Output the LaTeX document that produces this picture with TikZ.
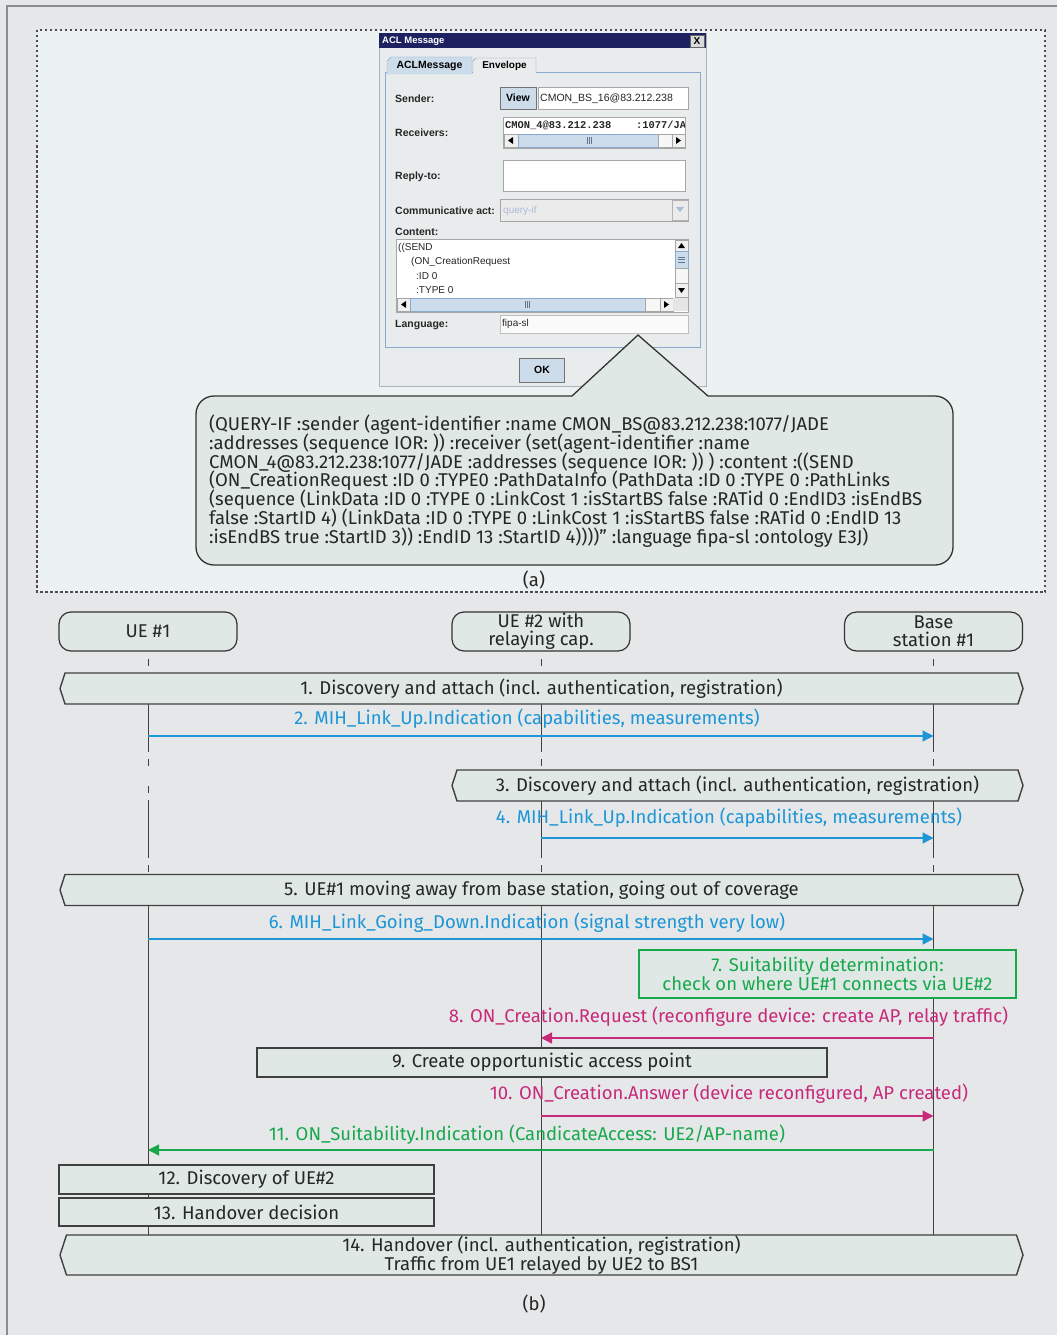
\documentclass[tikz,border=0pt]{standalone}
\usepackage{fontspec}
\setmainfont{Fira Sans}
\newfontfamily\dlgfont{Liberation Sans}
\newfontfamily\dlgmono{Liberation Mono}
\usetikzlibrary{arrows.meta,shapes.symbols}

\newcommand\tightlines{\lineskiplimit=-20pt\relax\lineskip=0pt\relax}

\definecolor{pagebg}{HTML}{E6E7E9}
\definecolor{panelbg}{HTML}{ECF1F1}
\definecolor{boxfill}{HTML}{DFE8E5}
\definecolor{winbg}{HTML}{E9ECEC}
\definecolor{titlebar}{HTML}{1E2160}
\definecolor{tabsel}{HTML}{CCDCEA}
\definecolor{tabline}{HTML}{8CA8CC}
\definecolor{greyed}{HTML}{A8BCD8}
\definecolor{msgblue}{HTML}{1C96D6}
\definecolor{msgred}{HTML}{C7297B}
\definecolor{msggreen}{HTML}{17A84B}

\tikzset{
  seqtext/.style={font=\fontsize{18.5}{19}\selectfont, text=black!85, inner sep=0pt},
  lifeline/.style={draw=black!75, line width=1pt},
  gapline/.style={lifeline, dash pattern=on 7pt off 20pt, dash phase=20pt},
  actor/.style={draw=black!80, line width=1.2pt, fill=boxfill, rounded corners=12pt,
    minimum width=178pt, minimum height=39pt, align=center, seqtext,
    font=\fontsize{18.5}{18}\selectfont\tightlines},
  phase/.style={shape=signal, signal to=west and east, signal pointer angle=144,
    draw=black!75, line width=1.4pt, fill=boxfill, minimum height=31pt, seqtext},
  stepbox/.style={draw=black!75, line width=1.3pt, fill=boxfill, seqtext},
  msg/.style={line width=1.3pt, -{Triangle[length=11pt,width=11pt]}},
  dlglabel/.style={anchor=west, inner sep=0pt, text=black!85,
    font=\dlgfont\bfseries\fontsize{10.5}{11}\selectfont},
  dlgtext/.style={anchor=west, inner sep=0pt, text=black!85,
    font=\dlgfont\fontsize{10}{11}\selectfont},
  field/.style={draw=black!35, fill=white},
  sbar/.style={draw=black!35, fill=black!6},
  thumb/.style={draw=tabline, fill=tabsel},
  button/.style={draw=black!55, fill=tabsel, inner sep=0pt,
    font=\dlgfont\bfseries\fontsize{10.5}{11}\selectfont}
}

\begin{document}
\begin{tikzpicture}[x=1pt,y=-1pt]
\useasboundingbox (0,0) rectangle (1057,1335);
\fill[pagebg] (0,0) rectangle (1057,1335);
\draw[black!45, line width=1.5pt] (7,1335) -- (7,6) -- (1057,6);

% (a) message window and its text
\draw[fill=panelbg, draw=black!70, line width=1.3pt, dash pattern=on 2.5pt off 2.5pt]
  (37,30) rectangle (1045,592);
\draw[draw=black!30, fill=winbg] (379,33) rectangle (706,386);
\fill[titlebar] (379,33) rectangle (706,48);
\node[anchor=west, inner sep=0pt, text=white, font=\dlgfont\bfseries\fontsize{9.5}{10}\selectfont]
  (wintitle) at (382,41) {ACL Message};
\draw[draw=black!60, fill=black!15] (690,35) rectangle (704,47);
\node[inner sep=0pt, font=\dlgfont\bfseries\fontsize{10}{10}\selectfont] (winclose) at (697,41) {X};
\draw[draw=tabline, line width=1pt] (385,73) rectangle (700,347);
\draw[draw=tabline, fill=tabsel] (387,74.5) -- (387,61) -- (391,57) -- (472,57) -- (472,74.5);
\draw[draw=black!40, fill=winbg] (473,73) -- (473,61) -- (476,58) -- (536,58) -- (536,73);
\node[inner sep=0pt, font=\dlgfont\bfseries\fontsize{10.5}{11}\selectfont] (tabacl) at (429.5,65.5) {ACLMessage};
\node[inner sep=0pt, font=\dlgfont\bfseries\fontsize{10}{11}\selectfont] (tabenv) at (504.5,65.5) {Envelope};

\node[dlglabel] (sender) at (395,98.5) {Sender:};
\node[button, minimum width=36pt, minimum height=22pt] (view) at (518,98) {View};
\draw[field] (538,87) rectangle (688,109);
\node[dlgtext, font=\dlgfont\fontsize{10.5}{11}\selectfont] (sendval) at (540,98.5) {CMON\_BS\_16@83.212.238};

\node[dlglabel] (receivers) at (395,133) {Receivers:};
\draw[field] (503,117) rectangle (685,148);
\begin{scope}
  \clip (504,118) rectangle (684,133);
  \node[dlgtext, font=\dlgmono\bfseries\fontsize{10.4}{11}\selectfont] (recvval) at (505,125.5)
    {CMON\_4@83.212.238\ \ \ \ :1077/JADE};
\end{scope}
\draw[sbar] (504,134) rectangle (518,147);
\fill (508,140.5) -- (513,137) -- (513,144) -- cycle;
\draw[thumb] (518,134) rectangle (658,147);
\draw[tabline!70!black] (587,137) -- (587,144) (589,137) -- (589,144) (591,137) -- (591,144);
\draw[sbar, fill=black!3] (658,134) rectangle (672,147);
\draw[sbar] (672,134) rectangle (685,147);
\fill (681,140.5) -- (676,137) -- (676,144) -- cycle;

\node[dlglabel] (replyto) at (395,177) {Reply-to:};
\draw[field] (503,160) rectangle (685,191);

\node[dlglabel] (commact) at (395,210.5) {Communicative act:};
\draw[draw=black!35, fill=black!8] (500,199) rectangle (688,221);
\node[dlgtext, text=greyed] (actval) at (503,210.5) {query-if};
\draw[draw=black!30, fill=black!8] (672,200) rectangle (688,220);
\fill[greyed] (676,207) -- (684,207) -- (680,212) -- cycle;

\node[dlglabel] (content) at (395,232) {Content:};
\draw[field] (396,239) rectangle (688,312);
\node[dlgtext] (cline1) at (398,248) {((SEND};
\node[dlgtext] (cline2) at (411,262) {(ON\_CreationRequest};
\node[dlgtext] (cline3) at (416,276) {:ID 0};
\node[dlgtext] (cline4) at (416,290) {:TYPE 0};
\draw[sbar] (675,240) rectangle (688,251);
\fill (681.5,243) -- (678,248) -- (685,248) -- cycle;
\draw[thumb] (675,251) rectangle (688,268);
\draw[tabline!70!black] (678,257) -- (685,257) (678,259.5) -- (685,259.5) (678,262) -- (685,262);
\draw[sbar, fill=black!3] (675,268) rectangle (688,283);
\draw[sbar] (675,283) rectangle (688,297);
\fill (681.5,293) -- (678,288) -- (685,288) -- cycle;
\draw[sbar] (397,298) rectangle (410,311);
\fill (401,304.5) -- (406,301) -- (406,308) -- cycle;
\draw[thumb] (410,298) rectangle (645,311);
\draw[tabline!70!black] (525,301) -- (525,308) (527,301) -- (527,308) (529,301) -- (529,308);
\draw[sbar, fill=black!3] (645,298) rectangle (660,311);
\draw[sbar] (660,298) rectangle (673,311);
\fill (669,304.5) -- (664,301) -- (664,308) -- cycle;
\fill[black!10] (673,298) rectangle (688,311);

\node[dlglabel] (language) at (395,325) {Language:};
\draw[draw=black!25, fill=black!2] (500,315) rectangle (688,333);
\node[dlgtext] (langval) at (502,324) {fipa-sl};
\node[button, minimum width=45pt, minimum height=24pt] (okbtn) at (542,370) {OK};

\node[draw=black!80, line width=1.3pt, fill=boxfill, rounded corners=18pt,
  minimum width=757pt, minimum height=169pt] (bubble) at (574.5,480.5) {};
\coordinate (tip) at (638,335);
\fill[boxfill] (571,397.8) -- (tip) -- (709,397.8) -- cycle;
\draw[black!80, line width=1.3pt] (572,396) -- (tip) -- (708,396);
\node[anchor=north west, align=left, inner sep=0pt, text=black!85,
  font=\fontsize{18.5}{18.7}\selectfont\tightlines] (msgtext) at (209,415) {%
(QUERY-IF :sender (agent-identifier :name CMON\_BS@83.212.238:1077/JADE\\
:addresses (sequence IOR: )) :receiver (set(agent-identifier :name\\
CMON\_4@83.212.238:1077/JADE :addresses (sequence IOR: )) ) :content :((SEND\\
(ON\_CreationRequest :ID 0 :TYPE0 :PathDataInfo (PathData :ID 0 :TYPE 0 :PathLinks\\
(sequence (LinkData :ID 0 :TYPE 0 :LinkCost 1 :isStartBS false :RATid 0 :EndID3 :isEndBS\\
false :StartID 4) (LinkData :ID 0 :TYPE 0 :LinkCost 1 :isStartBS false :RATid 0 :EndID 13\\
:isEndBS true :StartID 3)) :EndID 13 :StartID 4))))” :language fipa-sl :ontology E3J)};
\node[seqtext] (capa) at (534,580) {(a)};

% (b) message sequence
\node[actor] (ue1) at (148,631.5) {UE \#1};
\node[actor] (ue2) at (541,631.5) {UE \#2 with\\relaying cap.};
\node[actor] (bs) at (933.5,631.5) {Base\\station \#1};

\foreach \a in {ue1,ue2,bs}{
  \draw[gapline] (\a.south) -- (\a |- 0,673);
  \draw[lifeline] (\a |- 0,704) -- (\a |- 0,752);
  \draw[lifeline] (\a |- 0,800) -- (\a |- 0,858);
  \draw[gapline] (\a |- 0,858) -- (\a |- 0,875);
  \draw[lifeline] (\a |- 0,905) -- (\a |- 0,1235);
}
\draw[gapline] (ue1 |- 0,752) -- (ue1 |- 0,800);
\draw[gapline] (ue2 |- 0,752) -- (ue2 |- 0,771);
\draw[gapline] (bs |- 0,752) -- (bs |- 0,771);

\node[phase, minimum width=963pt] (ph1) at (541.5,688.5)
  {1. Discovery and attach (incl. authentication, registration)};
\node[seqtext, text=msgblue] (l2) at (527,719)
  {2. MIH\_Link\_Up.Indication (capabilities, measurements)};
\coordinate (y2) at (0,736);
\draw[msg, msgblue] (ue1 |- y2) -- (bs |- y2);

\node[phase, minimum width=571pt] (ph3) at (737.5,785.5)
  {3. Discovery and attach (incl. authentication, registration)};
\node[seqtext, text=msgblue] (l4) at (729,818)
  {4. MIH\_Link\_Up.Indication (capabilities, measurements)};
\coordinate (y4) at (0,838);
\draw[msg, msgblue] (ue2 |- y4) -- (bs |- y4);

\node[phase, minimum width=963pt] (ph5) at (541.5,890)
  {5. UE\#1 moving away from base station, going out of coverage};
\node[seqtext, text=msgblue] (l6) at (527,923)
  {6. MIH\_Link\_Going\_Down.Indication (signal strength very low)};
\coordinate (y6) at (0,939);
\draw[msg, msgblue] (ue1 |- y6) -- (bs |- y6);

\node[stepbox, draw=msggreen, line width=1.1pt, text=msggreen, align=center,
  minimum width=377pt, minimum height=48pt] (s7) at (827.5,974)
  {7. Suitability determination:\\check on where UE\#1 connects via UE\#2};

\node[seqtext, text=msgred] (l8) at (728.5,1017)
  {8. ON\_Creation.Request (reconfigure device: create AP, relay traffic)};
\coordinate (y8) at (0,1038);
\draw[msg, msgred] (bs |- y8) -- (ue2 |- y8);

\node[stepbox, minimum width=570pt, minimum height=29pt] (s9) at (542,1062.5)
  {9. Create opportunistic access point};

\node[seqtext, text=msgred] (l10) at (729,1094)
  {10. ON\_Creation.Answer (device reconfigured, AP created)};
\coordinate (y10) at (0,1116);
\draw[msg, msgred] (ue2 |- y10) -- (bs |- y10);

\node[seqtext, text=msggreen] (l11) at (527,1135)
  {11. ON\_Suitability.Indication (CandicateAccess: UE2/AP-name)};
\coordinate (y11) at (0,1150);
\draw[msg, msggreen] (bs |- y11) -- (ue1 |- y11);

\node[stepbox, minimum width=375pt, minimum height=29pt] (s12) at (246.5,1179.5)
  {12. Discovery of UE\#2};
\node[stepbox, minimum width=375pt, minimum height=28pt] (s13) at (246.5,1212)
  {13. Handover decision};

\node[phase, minimum width=963pt, minimum height=40pt, align=center] (ph14) at (541.5,1255)
  {14. Handover (incl. authentication, registration)\\Traffic from UE1 relayed by UE2 to BS1};
\node[seqtext] (capb) at (534,1304) {(b)};
\end{tikzpicture}
\end{document}
